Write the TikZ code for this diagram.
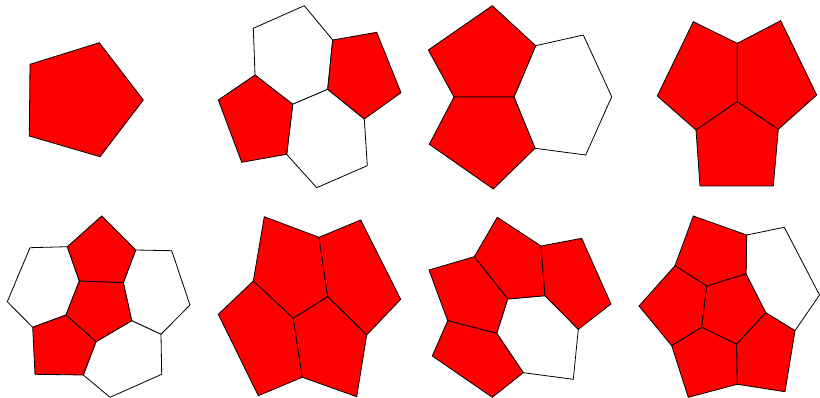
\documentclass[tikz,border=0pt]{standalone}
\begin{document}
\begin{tikzpicture}[x=1pt,y=-1pt,
  tile/.style={draw=black,line width=0.8pt,line join=miter},
  redtile/.style={tile,fill=red},
  whitetile/.style={tile,fill=white}]
\useasboundingbox (0,0) rectangle (820,398);
% ---- panel 1
\draw[redtile] (30,64.3) -- (99.3,42.7) -- (143.3,100) -- (100,156.7) -- (29.3,136) -- cycle;
% ---- panel 2
\coordinate (b1) at (255,75);
\coordinate (b2) at (292.7,104.3);
\coordinate (b3) at (327.7,89.3);
\coordinate (b4) at (332.7,40);
\coordinate (b5) at (364.3,119);
\coordinate (b6) at (286.7,154.3);
\draw[whitetile] (b1) -- (253.3,28.3) -- (304.3,5.7) -- (b4) -- (b3) -- (b2) -- cycle;
\draw[whitetile] (b2) -- (b3) -- (b5) -- (367.3,165.7) -- (316.7,187.7) -- (b6) -- cycle;
\draw[redtile] (b4) -- (376.7,32.3) -- (401,92.7) -- (b5) -- (b3) -- cycle;
\draw[redtile] (b1) -- (b2) -- (b6) -- (241.7,162.3) -- (218.3,100) -- cycle;
% ---- panel 3
\coordinate (c1) at (454,97);
\coordinate (c2) at (514,97);
\coordinate (c3) at (535.7,45.7);
\coordinate (c4) at (535,148.3);
\draw[whitetile] (c3) -- (583.3,35) -- (611.7,96.7) -- (585.7,155) -- (c4) -- (c2) -- cycle;
\draw[redtile] (428.3,50) -- (492.3,5.7) -- (c3) -- (c2) -- (c1) -- cycle;
\draw[redtile] (c1) -- (c2) -- (c4) -- (493.3,189) -- (429.3,144.3) -- cycle;
% ---- panel 4
\coordinate (d1) at (737.3,43.3);
\coordinate (d2) at (737.3,101.7);
\coordinate (d3) at (696,130);
\coordinate (d4) at (778.3,129.3);
\draw[redtile] (693.3,21.7) -- (d1) -- (d2) -- (d3) -- (657.3,96) -- cycle;
\draw[redtile] (d1) -- (780.7,20.7) -- (816.7,95) -- (d4) -- (d2) -- cycle;
\draw[redtile] (d3) -- (d2) -- (d4) -- (773.3,186) -- (700,186) -- cycle;
% ---- panel 5
\coordinate (e1) at (67.3,246.7);
\coordinate (e2) at (135.7,250);
\coordinate (e3) at (123.3,282.7);
\coordinate (e4) at (79.3,281);
\coordinate (e5) at (131.7,320.7);
\coordinate (e6) at (96,341.7);
\coordinate (e7) at (66,315);
\coordinate (e8) at (83.3,375);
\coordinate (e9) at (32.7,327.3);
\coordinate (e10) at (161,334.3);
\draw[whitetile] (30,247.7) -- (e1) -- (e4) -- (e7) -- (e9) -- (7.3,301.7) -- cycle;
\draw[whitetile] (e2) -- (171.7,250.7) -- (190,305) -- (e10) -- (e5) -- (e3) -- cycle;
\draw[whitetile] (e6) -- (e5) -- (e10) -- (161.7,374.3) -- (110,397.3) -- (e8) -- cycle;
\draw[redtile] (e1) -- (101.7,216) -- (e2) -- (e3) -- (e4) -- cycle;
\draw[redtile] (e4) -- (e3) -- (e5) -- (e6) -- (e7) -- cycle;
\draw[redtile] (e7) -- (e6) -- (e8) -- (35,374.3) -- (e9) -- cycle;
% ---- panel 6
\coordinate (f1) at (319,237.3);
\coordinate (f2) at (327.7,296.7);
\coordinate (f3) at (293.3,318.3);
\coordinate (f4) at (253.3,281);
\coordinate (f5) at (366.7,335);
\coordinate (f6) at (302.3,377.3);
\draw[redtile] (264.3,216.7) -- (f1) -- (f2) -- (f3) -- (f4) -- cycle;
\draw[redtile] (f1) -- (360.7,220) -- (400.7,299.3) -- (f5) -- (f2) -- cycle;
\draw[redtile] (f4) -- (f3) -- (f6) -- (258.3,395.7) -- (218.3,314.3) -- cycle;
\draw[redtile] (f3) -- (f2) -- (f5) -- (356.7,396.7) -- (f6) -- cycle;
% ---- panel 7
\coordinate (g1) at (474.3,256.7);
\coordinate (g2) at (541,246);
\coordinate (g3) at (545,295.7);
\coordinate (g4) at (507.7,299);
\coordinate (g5) at (578.3,329.3);
\coordinate (g6) at (496.7,333.3);
\coordinate (g7) at (447.7,320.7);
\coordinate (g8) at (523.3,372.7);
\draw[whitetile] (g4) -- (g3) -- (g5) -- (573.3,379.3) -- (g8) -- (g6) -- cycle;
\draw[redtile] (g1) -- (497.3,217.3) -- (g2) -- (g3) -- (g4) -- cycle;
\draw[redtile] (g2) -- (581.7,238.3) -- (611,304) -- (g5) -- (g3) -- cycle;
\draw[redtile] (429,270) -- (g1) -- (g4) -- (g6) -- (g7) -- cycle;
\draw[redtile] (g7) -- (g6) -- (g8) -- (492.3,397.3) -- (432.3,356) -- cycle;
% ---- panel 8
\coordinate (h1) at (706.7,286);
\coordinate (h2) at (746,274);
\coordinate (h3) at (765.7,312.7);
\coordinate (h4) at (736.7,344);
\coordinate (h5) at (701.7,327.3);
\coordinate (h6) at (675,265.7);
\coordinate (h7) at (746.7,235);
\coordinate (h8) at (671.7,345.7);
\coordinate (h9) at (737.3,384.3);
\coordinate (h10) at (795,330.7);
\draw[whitetile] (h2) -- (h7) -- (784.3,227.3) -- (819.5,295) -- (h10) -- (h3) -- cycle;
\draw[redtile] (h6) -- (693.3,216) -- (h7) -- (h2) -- (h1) -- cycle;
\draw[redtile] (639,306) -- (h6) -- (h1) -- (h5) -- (h8) -- cycle;
\draw[redtile] (h8) -- (h5) -- (h4) -- (h9) -- (688.3,397.3) -- cycle;
\draw[redtile] (h4) -- (h3) -- (h10) -- (785,391.7) -- (h9) -- cycle;
\draw[redtile] (h1) -- (h2) -- (h3) -- (h4) -- (h5) -- cycle;
\end{tikzpicture}
\end{document}
